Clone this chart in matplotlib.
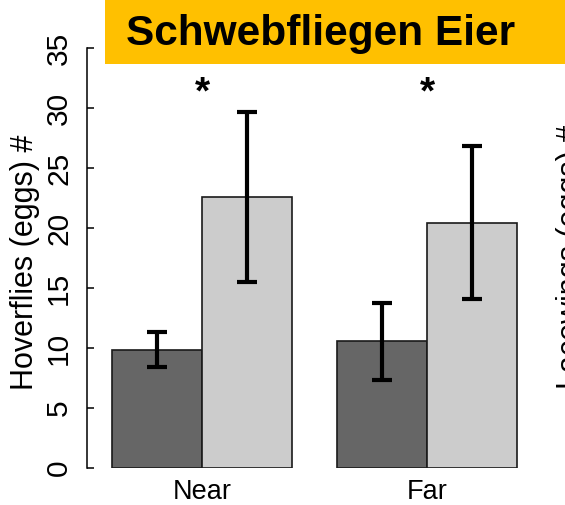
import matplotlib
matplotlib.use("Agg")
import matplotlib.pyplot as plt
from matplotlib.patches import Rectangle
import numpy as np

plt.rcParams['font.family'] = ['Liberation Sans', 'DejaVu Sans']

# Data
groups = ["Near", "Far"]
series_dark = [9.85, 10.55]      # first treatment (dark bars)
series_light = [22.6, 20.45]     # second treatment (light bars)
err_dark = [1.45, 3.2]
err_light = [7.1, 6.35]
significance = ["*", "*"]
y_ticks = [0, 5, 10, 15, 20, 25, 30, 35]
title = "Schwebfliegen Eier"
y_label = "Hoverflies (eggs) #"
next_panel_label = "Lacewings (eggs) #"

W, H = 565, 505
fig = plt.figure(figsize=(W / 100, H / 100), dpi=100)

# axes placement in pixels
ax_left, ax_right, ax_top, ax_bottom = 87, 530, 48, 468
ax = fig.add_axes([ax_left / W, 1 - ax_bottom / H,
                   (ax_right - ax_left) / W, (ax_bottom - ax_top) / H])

bar_w = 1.0
group_gap = 0.5
x_dark = np.array([i * (2 * bar_w + group_gap) for i in range(len(groups))])
x_light = x_dark + bar_w
centers = x_dark + bar_w  # boundary between the two bars of a group

ax.bar(x_dark, series_dark, width=bar_w, align='edge', color='#666666',
       edgecolor='#1a1a1a', linewidth=1.2, zorder=2)
ax.bar(x_light, series_light, width=bar_w, align='edge', color='#cccccc',
       edgecolor='#1a1a1a', linewidth=1.2, zorder=2)

ax.errorbar(x_dark + bar_w / 2, series_dark, yerr=err_dark, fmt='none',
            ecolor='black', elinewidth=3.0, capsize=7.5, capthick=3.0, zorder=3)
ax.errorbar(x_light + bar_w / 2, series_light, yerr=err_light, fmt='none',
            ecolor='black', elinewidth=3.0, capsize=7.5, capthick=3.0, zorder=3)

for c, s in zip(centers, significance):
    ax.text(c, 30.35, s, ha='center', va='baseline', fontsize=28,
            fontweight='bold')

x_left_px = (ax_left - 112) / 90.0
ax.set_xlim(x_left_px, x_left_px + (ax_right - ax_left) / 90.0)
ax.set_ylim(0, 35)

for side in ['top', 'right', 'bottom']:
    ax.spines[side].set_visible(False)
ax.spines['left'].set_linewidth(1.1)
ax.spines['left'].set_bounds(0, 35)

ax.set_yticks(y_ticks)
ax.set_yticklabels([str(t) for t in y_ticks], rotation=90, va='center')
ax.tick_params(axis='y', direction='in', length=5, width=1.1, pad=10,
               labelsize=21.5)
ax.set_xticks(centers)
ax.set_xticklabels(groups)
ax.tick_params(axis='x', length=0, pad=8, labelsize=19.5)

fig.text(25 / W, 1 - 262 / H, y_label, rotation=90, ha='center',
         va='center', fontsize=22)
fig.text(556 / W, 1 - 257 / H, next_panel_label, rotation=90, ha='left',
         va='center', fontsize=22)

# title banner
fig.patches.append(Rectangle((105 / W, 1 - 63.5 / H), (W - 105) / W, 63.5 / H,
                             transform=fig.transFigure, facecolor='#ffc000',
                             edgecolor='none', zorder=0))
fig.text(126 / W, 1 - 45 / H, title, ha='left', va='baseline',
         fontsize=30.5, fontweight='bold')

fig.savefig("out.png", dpi=100)
